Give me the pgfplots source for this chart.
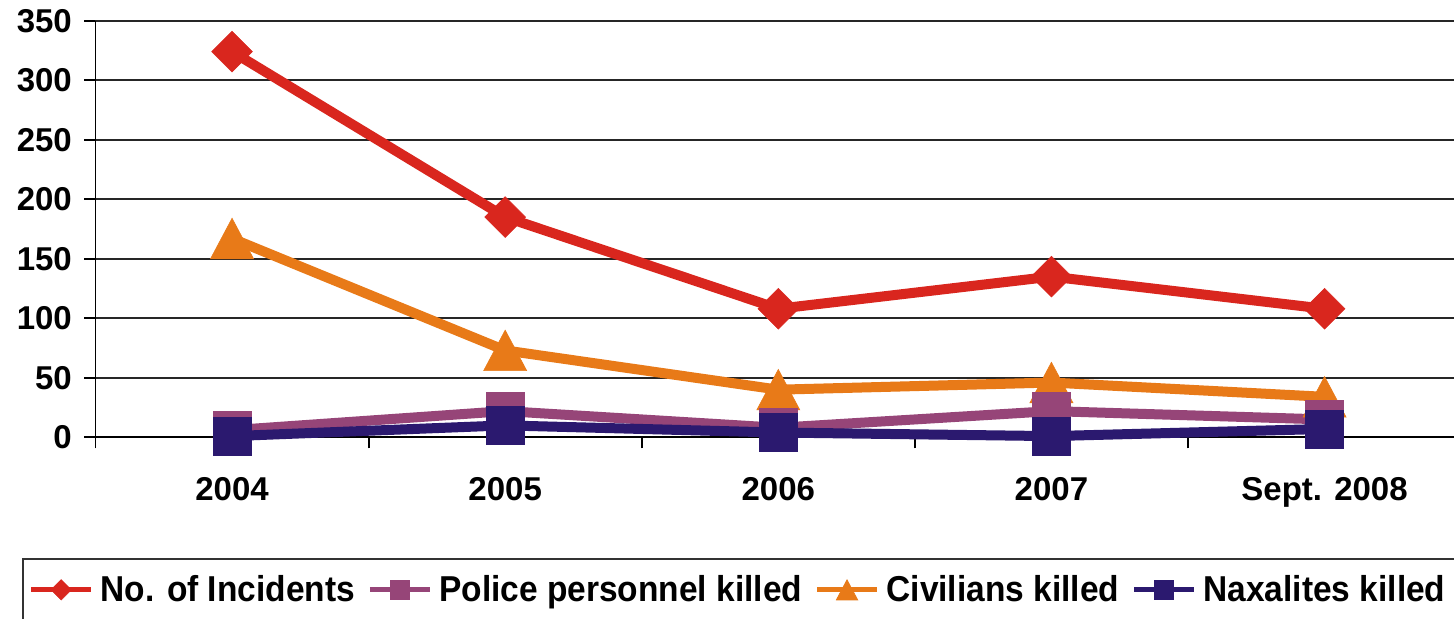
\documentclass[border=0pt]{standalone}
\usepackage{fontspec}
\setmainfont{Liberation Sans}
\newfontfamily\legfont{Liberation Sans}[FakeStretch=0.93]
\usepackage{pgfplots}
\pgfplotsset{compat=1.18}

\definecolor{incRed}{RGB}{217,38,30}
\definecolor{polPurple}{RGB}{150,69,120}
\definecolor{civOrange}{RGB}{232,122,24}
\definecolor{naxNavy}{RGB}{43,25,111}

\newcommand{\tickfont}{\fontsize{16.5}{16.5}\selectfont\bfseries}
\newcommand{\legendfont}{\legfont\fontsize{18}{18}\selectfont\bfseries}

\begin{document}
\begin{tikzpicture}
\begin{axis}[
  at={(0pt,0pt)}, anchor=south west,
  scale only axis, width=679.25pt, height=208.3pt,
  xmin=-0.5, xmax=4.474, ymin=0, ymax=350,
  clip=false,
  axis x line*=bottom, axis y line*=left,
  axis line style={black, line width=0.9pt, -},
  tick align=outside,
  xtick={0,...,4},
  xticklabels={2004,2005,2006,2007,Sept. 2008},
  minor xtick={-0.5,0.5,1.5,2.5,3.5},
  major x tick style={draw=none},
  minor x tick style={black, line width=0.9pt},
  minor tick length=5.5pt,
  ytick={0,50,...,350},
  major y tick style={black, line width=0.9pt},
  major tick length=5.5pt,
  ymajorgrids,
  major grid style={black!85, line width=0.9pt},
  /pgf/number format/assume math mode=true,
  yticklabel style={font=\tickfont, xshift=-2.8pt},
  xticklabel style={font=\tickfont, yshift=-11pt},
  legend columns=4,
  legend style={
    at={(-36.9pt,-60.5pt)}, anchor=north west,
    draw=black!80, line width=1pt,
    font=\legendfont,
    inner xsep=3pt, inner ysep=6pt,
    /tikz/every even column/.append style={column sep=4.2pt},
    /tikz/every odd column/.append style={column sep=1.5pt},
  },
  legend cell align=left,
  legend image code/.code={
    \draw[#1, line width=2.5pt, mark=none] (0pt,0pt) -- (30pt,0pt);
    \draw[#1, mark size=0.5\pgfplotmarksize] plot coordinates {(15pt,0pt)};
  },
]
% legend entries in series order
\addlegendimage{incRed, line width=5pt, mark=square*, mark size=7.2pt,
  mark options={rotate=45, solid, line width=0.3pt, fill=incRed, draw=incRed}}
\addlegendentry{No. of Incidents}
\addlegendimage{polPurple, line width=5pt, mark=square*, mark size=9.5pt,
  mark options={solid, line width=0.3pt, fill=polPurple, draw=polPurple}}
\addlegendentry{Police personnel killed}
\addlegendimage{civOrange, line width=5pt, mark=triangle*, mark size=13.5pt,
  mark options={xscale=0.92, yshift=-0.25\pgfplotmarksize, solid, line width=0.3pt, fill=civOrange, draw=civOrange}}
\addlegendentry{Civilians killed}
\addlegendimage{naxNavy, line width=5pt, mark=square*, mark size=9.5pt,
  mark options={solid, line width=0.3pt, fill=naxNavy, draw=naxNavy}}
\addlegendentry{Naxalites killed}

% No. of Incidents
\addplot[forget plot, incRed, line width=5pt, mark=square*, mark size=7.2pt,
  mark options={rotate=45, solid, line width=0.3pt, fill=incRed, draw=incRed}]
  coordinates {(0,324) (1,185) (2,108) (3,135) (4,108)};
% Civilians killed
\addplot[forget plot, civOrange, line width=5pt, mark=triangle*, mark size=13.5pt,
  mark options={xscale=0.92, yshift=-0.25\pgfplotmarksize, solid, line width=0.3pt, fill=civOrange, draw=civOrange}]
  coordinates {(0,167) (1,73) (2,40) (3,46) (4,34)};
% Police personnel killed
\addplot[forget plot, polPurple, line width=5pt, mark=square*, mark size=9.5pt,
  mark options={solid, line width=0.3pt, fill=polPurple, draw=polPurple}]
  coordinates {(0,6) (1,22) (2,8) (3,22) (4,15)};
% Naxalites killed
\addplot[forget plot, naxNavy, line width=5pt, mark=square*, mark size=9.5pt,
  mark options={solid, line width=0.3pt, fill=naxNavy, draw=naxNavy}]
  coordinates {(0,1) (1,10) (2,4) (3,1) (4,7)};
\end{axis}
\pgfresetboundingbox
\useasboundingbox (-47.75pt,-90.85pt) rectangle (679.25pt,218.65pt);
\end{tikzpicture}
\end{document}
